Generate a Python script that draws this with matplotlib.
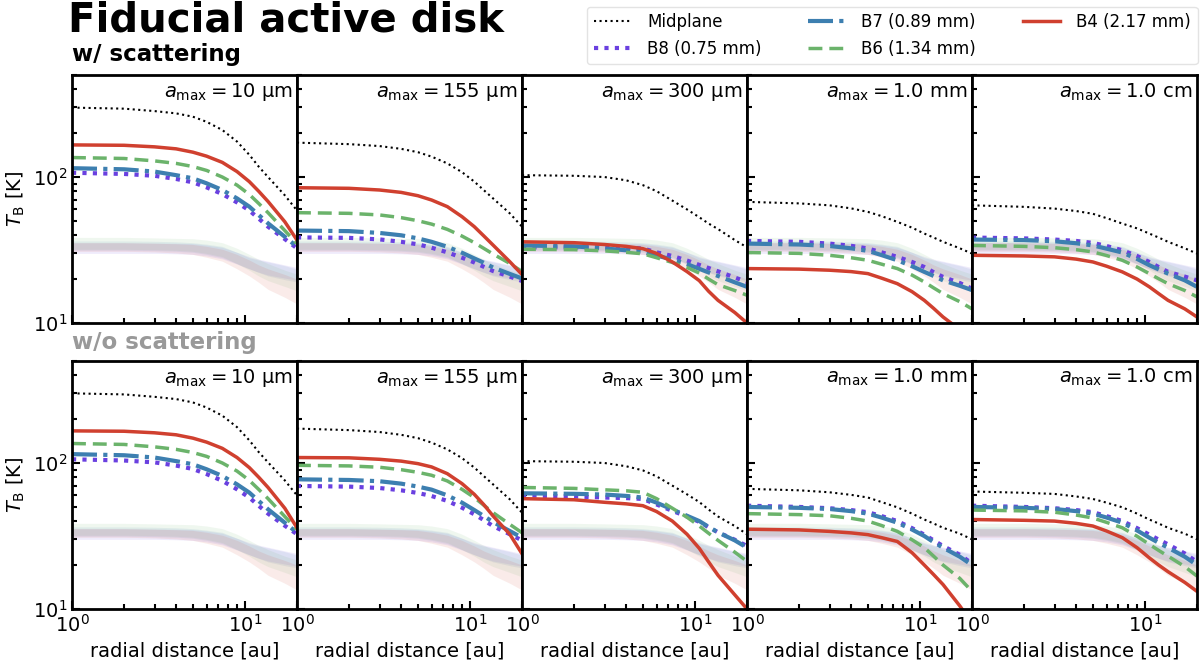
import matplotlib
matplotlib.use("Agg")
import matplotlib.pyplot as plt
from matplotlib.ticker import LogLocator, NullFormatter

# radius grid [au]
R = [1, 2, 3, 4, 5, 6, 7.4, 9, 10.6, 12, 13.6, 17, 20]

amax_labels = ["10 µm", "155 µm", "300 µm", "1.0 mm", "1.0 cm"]

# ---- w/ scattering (one list per a_max panel)
scat_mid = [[299, 294, 283, 273, 259, 239, 210, 175, 142, 118, 100, 75, 59],
            [172, 168, 163, 156, 148, 138, 124, 108, 93, 81.5, 71.4, 56.4, 45.7],
            [103, 102, 100, 95, 88, 80, 69, 60, 53, 48, 44, 37, 33],
            [67.6, 66, 64, 61, 57.7, 54, 49.3, 45, 41, 38.5, 36, 32.5, 29.9],
            [64, 62.5, 60.8, 58.5, 56, 52.3, 48, 44.5, 41, 38.5, 36, 32.5, 29.9]]
scat_b8 = [[107, 105, 102, 97, 92, 85, 76.5, 67, 59, 52, 45.7, 37.6, 32.5],
           [38.6, 38.3, 37.4, 36, 34.6, 32.8, 30.5, 28, 26, 24.3, 22.7, 20.8, 19.4],
           [33, 33, 33, 32.8, 32.4, 30.5, 28.8, 26.8, 25, 23.8, 22.6, 20.5, 19.1],
           [36.5, 36, 35, 33.8, 32.4, 30.5, 28.4, 26.2, 24.2, 22.3, 20.7, 18.8, 17.2],
           [38.5, 38, 37.3, 36.5, 35.4, 33.7, 31.5, 28.8, 26.2, 24.2, 22.4, 20.8, 19.6]]
scat_b7 = [[115, 113, 109, 103, 98, 90.6, 81.5, 71.4, 62.7, 55, 48.2, 39, 33.3],
           [43, 42.6, 41.4, 39.9, 38, 36, 33.3, 30.3, 27.7, 25.9, 24, 21.7, 20.2],
           [34, 33.5, 32.4, 31.5, 30.7, 29, 27.2, 25.3, 23.5, 22.2, 21, 19, 17.7],
           [35, 34.5, 33.7, 32.5, 31.2, 29.2, 26.9, 24.5, 22.4, 21, 19.6, 18, 16.8],
           [37.3, 37, 36.3, 35.2, 34, 32.3, 30.4, 27.5, 24.9, 23.3, 21.8, 19.6, 17.7]]
scat_b6 = [[136, 134, 129, 124, 118, 111, 100, 88, 76, 66, 57, 43, 35],
           [57, 56.4, 55, 52.7, 50.2, 47.6, 43.8, 39.4, 35.5, 32.5, 29.7, 25.6, 22.5],
           [32, 31.8, 31.2, 30.5, 29.8, 28, 26, 24, 22, 20, 18.3, 16.7, 15.5],
           [30.4, 30, 29.1, 28, 26.9, 25.3, 23.6, 21.3, 19.1, 17.4, 15.9, 14, 12.5],
           [34, 33.5, 32.8, 31.8, 30.7, 29, 26.9, 24.2, 21.8, 20.1, 18.6, 16.7, 15.1]]
scat_b4 = [[166, 165, 161, 156, 148, 139, 126, 109, 93, 80, 68, 49.4, 37],
           [84.5, 83.7, 81.5, 78.5, 74.5, 69.6, 62.7, 53.5, 45.7, 39.6, 34.2, 26.3, 21.5],
           [36, 35.5, 34.5, 33.5, 32.3, 30, 26.2, 22.5, 19.5, 16.5, 14.3, 11.8, 10],
           [23.6, 23.4, 23, 22.5, 21.8, 20.3, 18.6, 16.4, 14.3, 12.6, 11, 9, 8],
           [29.1, 28.8, 28.4, 27.4, 26.2, 24.5, 22.4, 20, 17.7, 15.9, 14.3, 12.5, 11]]

# ---- w/o scattering
noscat_mid = [[300, 295, 284, 274, 260, 240, 211, 176, 143, 119, 101, 76, 60],
              [172, 168, 163, 156, 148, 138, 124, 108, 93, 81.5, 71.4, 56.4, 45.7],
              [103, 102, 100, 95, 89, 81, 70, 61, 54, 48, 43, 37, 32.5],
              [66.5, 65, 63, 60.5, 58, 54, 49.7, 45, 41, 38.5, 36, 32.8, 30],
              [63.8, 62.5, 61.4, 59, 56.7, 53.5, 49.7, 45, 41, 38.5, 36, 32.8, 30]]
noscat_b8 = [[106, 104, 101, 96, 91, 84, 75.5, 66, 58, 51, 45, 37.2, 32.5],
             [69.6, 68.9, 67.4, 65, 62.3, 59.4, 55, 49.4, 44.5, 40.7, 37, 32.5, 29.5],
             [60, 59, 58, 57.5, 56.7, 52, 47, 43, 39.5, 36.3, 33.5, 29.8, 27],
             [51, 50, 49, 47.6, 46, 43.3, 40, 35.8, 32.3, 29.5, 27, 23.5, 20.5],
             [51, 50, 49, 47.6, 46, 43.3, 40, 35.8, 32.3, 29.9, 27.7, 24, 21]]
noscat_b7 = [[115, 113, 109, 103, 98, 90.6, 81.5, 71.4, 62.7, 55, 48.2, 39, 33.3],
             [77.3, 76.5, 75, 72.2, 68.9, 65.7, 60, 53.5, 47.6, 43.4, 39.4, 34.2, 30.8],
             [62, 61.5, 60.8, 59.5, 58, 53.5, 48, 43.5, 40, 36.5, 33.5, 29.5, 26.3],
             [50, 49.3, 48.4, 46.8, 45, 42.3, 39, 35, 31.6, 28.7, 26.3, 22.8, 20],
             [50, 49.3, 48.4, 46.8, 45, 42.3, 39, 34.5, 30.8, 28.4, 26.3, 22.8, 20]]
noscat_b6 = [[136, 134, 129, 124, 118, 111, 100, 88, 76, 66, 57, 43, 35],
             [96.4, 95.5, 93.5, 90, 86.3, 82.4, 75.3, 66, 58, 51.5, 45.7, 38, 33.3],
             [68, 67, 65.5, 64.5, 63, 57, 49, 42.5, 37, 33, 29.5, 24.5, 21.2],
             [45, 44.3, 43.5, 41.8, 40, 37.3, 34, 29.8, 26.3, 23, 20, 16.2, 13.2],
             [47.6, 47, 46, 44, 42, 39.2, 36, 31.5, 27.7, 25.2, 23, 19.5, 16.8]]
noscat_b4 = [[166, 165, 161, 156, 148, 139, 126, 109, 93, 80, 68, 49, 36],
             [109, 108.5, 106, 103, 99, 94, 84.5, 72.2, 61, 52, 43.4, 32.5, 23.9],
             [57, 56, 53.8, 52.5, 51, 46.5, 40, 32.5, 26, 21, 17, 12.5, 10],
             [35.2, 34.8, 34, 33.2, 32.3, 30.8, 29, 24.3, 20, 17.2, 14.7, 10.5, 8],
             [41, 40.5, 40, 38.6, 37, 34.2, 30.8, 26.3, 22.4, 20, 18, 15.2, 13.2]]

# observed ranges (same in every panel)
band_b8_lo = [30, 30, 30, 29.8, 29.5, 28.8, 27.5, 25.3, 23.5, 22.3, 21.3, 20.3, 19.6]
band_b8_hi = [35.5, 35.5, 35.3, 35.2, 35, 34.2, 33, 30.5, 28.5, 27.4, 26.5, 25, 24]
band_b7_lo = [31.5, 31.5, 31.3, 31, 30.5, 29.5, 28, 25.5, 23.5, 22.2, 21, 19.8, 19.1]
band_b7_hi = [36.5, 36.5, 36.3, 36, 35.5, 34.7, 33.5, 30.5, 28, 27, 26.2, 24.7, 23.4]
band_b6_lo = [32, 32, 31.8, 31.5, 31, 30, 28.5, 25.5, 23, 21, 19.5, 17.8, 16.6]
band_b6_hi = [38.6, 38.6, 38.3, 38, 37.8, 37, 35.5, 32.5, 29.5, 27.3, 25.5, 23, 21.6]
band_b4_lo = [31, 31, 30.7, 30.2, 29.5, 28.2, 26.5, 23.5, 21, 19, 17, 15, 13.5]
band_b4_hi = [35.5, 35.5, 35.2, 34.9, 34.5, 33.5, 32, 29.5, 27, 25, 23.5, 21.5, 20]

c_b8 = "#6A40E0"
c_b7 = "#3D7FB0"
c_b6 = "#6BB36B"
c_b4 = "#D0402F"

bands = [(band_b8_lo, band_b8_hi, c_b8), (band_b7_lo, band_b7_hi, c_b7),
         (band_b6_lo, band_b6_hi, c_b6), (band_b4_lo, band_b4_hi, c_b4)]

fig, axes = plt.subplots(2, 5, figsize=(12, 6.62), dpi=100, sharex=True, sharey=True)
fig.subplots_adjust(left=0.06, right=0.9975, top=0.8867, bottom=0.0801,
                    wspace=0, hspace=0.153)

rows = [(scat_mid, scat_b8, scat_b7, scat_b6, scat_b4),
        (noscat_mid, noscat_b8, noscat_b7, noscat_b6, noscat_b4)]

for i, (mid, b8, b7, b6, b4) in enumerate(rows):
    for j in range(5):
        ax = axes[i, j]
        for lo, hi, c in bands:
            ax.fill_between(R, lo, hi, color=c, alpha=0.1, lw=0)
        ax.plot(R, mid[j], color="black", ls=":", lw=1.5, label="Midplane")
        ax.plot(R, b8[j], color=c_b8, ls=(0, (1, 1.5)), lw=3, label="B8 (0.75 mm)")
        ax.plot(R, b7[j], color=c_b7, ls=(0, (6, 1.5, 1, 1.5)), lw=3, label="B7 (0.89 mm)")
        ax.plot(R, b6[j], color=c_b6, ls=(0, (4, 2)), lw=2.5, label="B6 (1.34 mm)")
        ax.plot(R, b4[j], color=c_b4, ls="-", lw=2.5, label="B4 (2.17 mm)")
        ax.set_xscale("log")
        ax.set_yscale("log")
        ax.set_xlim(1, 20)
        ax.set_ylim(10, 500)
        ax.text(0.98, 0.975, r"$a_{\rm max}=$" + amax_labels[j], transform=ax.transAxes,
                ha="right", va="top", fontsize=14)
        ax.tick_params(which="both", direction="in", top=False, right=False,
                       labelsize=14)
        ax.tick_params(which="major", length=6, width=1.5)
        ax.tick_params(which="minor", length=3.5, width=1.5)
        ax.yaxis.set_major_locator(LogLocator(base=10, numticks=5))
        ax.yaxis.set_minor_locator(LogLocator(base=10, subs=range(2, 10), numticks=20))
        ax.yaxis.set_minor_formatter(NullFormatter())
        ax.xaxis.set_minor_formatter(NullFormatter())
        for s in ax.spines.values():
            s.set_linewidth(2)
        if i == 1:
            ax.set_xlabel("radial distance [au]", fontsize=14)
        if j == 0:
            ax.set_ylabel(r"$T_{\rm B}$ [K]", fontsize=14)

fig.text(0.057, 1.0, "Fiducial active disk", fontsize=29, fontweight="bold",
         ha="left", va="top")
fig.text(0.06, 0.9, "w/ scattering", fontsize=16.5, fontweight="bold",
         ha="left", va="bottom")
fig.text(0.06, 0.466, "w/o scattering", fontsize=16.5, fontweight="bold",
         color="#999999", ha="left", va="bottom")

handles, labels = axes[0, 0].get_legend_handles_labels()
fig.legend(handles, labels, loc="upper right", bbox_to_anchor=(0.998, 0.99),
           borderaxespad=0, ncol=3, fontsize=12, handlelength=2.2,
           handletextpad=1.0, columnspacing=2.8, edgecolor="#dddddd",
           fancybox=True, borderpad=0.4, labelspacing=0.5)

plt.savefig("out.png", dpi=100)
